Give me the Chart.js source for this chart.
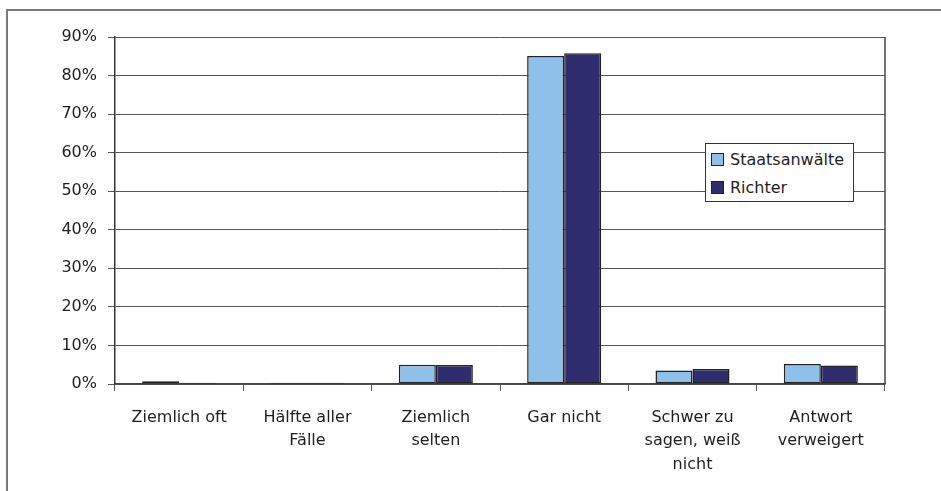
<!DOCTYPE html>
<html>
<head>
<meta charset="utf-8">
<script src="https://cdn.jsdelivr.net/npm/chart.js@4/dist/chart.umd.min.js"></script>
<style>
  html, body { margin: 0; padding: 0; background: #fff; }
  #wrap { position: relative; width: 941px; height: 491px; overflow: hidden; }
  #frame { position: absolute; left: 6px; top: 9px; right: -4px; bottom: -4px;
           border-top: 2px solid #7a7a7a; border-left: 2px solid #7a7a7a; pointer-events: none; }
  #legend { position: absolute; left: 705px; top: 143px; width: 149px; height: 59px;
            border: 1px solid #333; background: #fff; box-sizing: border-box;
            font-family: "DejaVu Sans", sans-serif; font-size: 16px; color: #1e1e1e; }
  #legend .row { position: absolute; left: 5px; height: 20px; line-height: 20px; white-space: nowrap; }
  #legend .sw { display: inline-block; width: 13px; height: 13px; border: 1px solid #222;
                box-sizing: border-box; vertical-align: -1px; margin-right: 6px; }
</style>
</head>
<body>
<div id="wrap">
  <canvas id="chart" width="941" height="491"></canvas>
  <div id="frame"></div>
  <div id="legend"></div>
</div>
<script>
// data (percent)
const categories = [
  'Ziemlich oft',
  ['Hälfte aller', 'Fälle'],
  ['Ziemlich', 'selten'],
  'Gar nicht',
  ['Schwer zu', 'sagen, weiß', 'nicht'],
  ['Antwort', 'verweigert']
]
const seriesNames = ['Staatsanwälte', 'Richter']
const staatsanwaelte = [0.7, 0.3, 5.0, 85.1, 3.5, 5.2]
const richter = [0.3, 0.3, 4.9, 85.8, 3.9, 4.8]
const yTicks = [0, 10, 20, 30, 40, 50, 60, 70, 80, 90]

const colors = ['#8fc0e9', '#2f2c70']
const font = { family: 'DejaVu Sans', size: 16, lineHeight: 1.47 }

// right edge of the plot box (the 90% grid line already gives the top)
const plotBorder = {
  id: 'plotBorder',
  afterDraw(chart) {
    const { ctx, chartArea } = chart
    ctx.save()
    ctx.strokeStyle = '#444'
    ctx.lineWidth = 1.5
    ctx.beginPath()
    ctx.moveTo(chartArea.right, chartArea.top)
    ctx.lineTo(chartArea.right, chartArea.bottom)
    ctx.stroke()
    ctx.restore()
  }
}

const ctx = document.getElementById('chart').getContext('2d')
const chart = new Chart(ctx, {
  type: 'bar',
  data: {
    labels: categories,
    datasets: [
      { label: seriesNames[0], data: staatsanwaelte, backgroundColor: colors[0] },
      { label: seriesNames[1], data: richter, backgroundColor: colors[1] }
    ]
  },
  options: {
    responsive: false,
    animation: false,
    layout: { padding: { top: 37, right: 56, left: 0, bottom: 0 } },
    datasets: {
      bar: {
        borderColor: '#222',
        borderWidth: 1.5,
        borderSkipped: false,
        barPercentage: 1,
        categoryPercentage: 0.577
      }
    },
    plugins: {
      legend: { display: false },
      tooltip: { enabled: false }
    },
    scales: {
      x: {
        grid: { display: true, drawOnChartArea: false, tickLength: 7, color: '#555', offset: true },
        border: { display: true, color: '#444', width: 1.5 },
        ticks: { font: font, color: '#1e1e1e', padding: 15, maxRotation: 0, autoSkip: false },
        afterFit(scale) { scale.height = 107 }
      },
      y: {
        min: 0,
        max: 90,
        afterBuildTicks(scale) { scale.ticks = yTicks.map(v => ({ value: v })) },
        grid: { color: '#555', lineWidth: 1, tickLength: 7 },
        border: { display: true, color: '#333', width: 1.5 },
        ticks: { font: { family: 'DejaVu Sans', size: 16 }, color: '#1e1e1e', padding: 11, callback: v => v + '%' },
        afterFit(scale) { scale.width = 115 }
      }
    }
  },
  plugins: [plotBorder]
})

// legend box inside the plot, like the original
const legend = document.getElementById('legend')
seriesNames.forEach((name, i) => {
  const row = document.createElement('div')
  row.className = 'row'
  row.style.top = (6 + i * 28) + 'px'
  row.innerHTML = '<span class="sw" style="background:' + colors[i] + '"></span>' + name
  legend.appendChild(row)
})
</script>
</body>
</html>
